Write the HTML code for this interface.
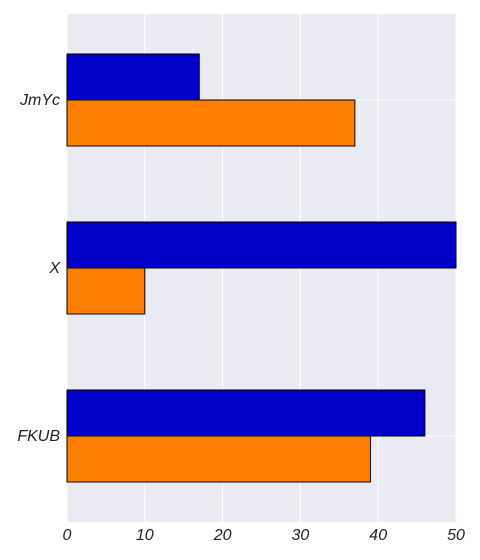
<!DOCTYPE html>
<html><head><meta charset="utf-8"><style>
body{margin:0;background:#fff;}
svg{display:block;font-family:"Liberation Sans",sans-serif;}
</style></head><body>
<svg id="c" width="480" height="560"></svg>
<script>
const categories=["JmYc","X","FKUB"];
const seriesBlue=[17,50,46];
const seriesOrange=[37,10,39];
const xTicks=[0,10,20,30,40,50];
const NS="http://www.w3.org/2000/svg";
const svg=document.getElementById('c');
const L=67,R=456,T=14,B=522;
const xs=v=>L+(v/50)*(R-L);
const step=168, c0=100;
const ys=i=>c0+i*step;
const bh=46;
function mk(t,a,p){const e=document.createElementNS(NS,t);for(const k in a)e.setAttribute(k,a[k]);(p||svg).appendChild(e);return e;}
const bg=mk('rect',{x:L,y:T,width:R-L,height:B-T,fill:'#eaeaf2'});


xTicks.forEach(t=>{
 const g=mk('line',{x1:xs(t),x2:xs(t),y1:T,y2:B,stroke:'#fff','stroke-width':1});
 
 
 const lb=mk('text',{x:xs(t),y:540,'text-anchor':'middle','font-size':16,'font-style':'italic',fill:'#222'});
 lb.textContent=t;
 
 
});
categories.forEach((c,i)=>{
 const g=mk('line',{x1:L,x2:R,y1:ys(i),y2:ys(i),stroke:'#fff','stroke-width':1});
 
 
});
categories.forEach((c,i)=>{
 const b=mk('rect',{x:xs(0),y:ys(i)-bh,width:xs(seriesBlue[i])-xs(0),height:bh,fill:'#0000c8',stroke:'#000','stroke-width':1});
 
 
 const o=mk('rect',{x:xs(0),y:ys(i),width:xs(seriesOrange[i])-xs(0),height:bh,fill:'#ff7f00',stroke:'#000','stroke-width':1});
 
 
 const lb=mk('text',{x:60,y:ys(i)+5,'text-anchor':'end','font-size':16,'font-style':'italic',fill:'#222'});
 lb.textContent=c;
 
 
});
</script>
</body></html>
